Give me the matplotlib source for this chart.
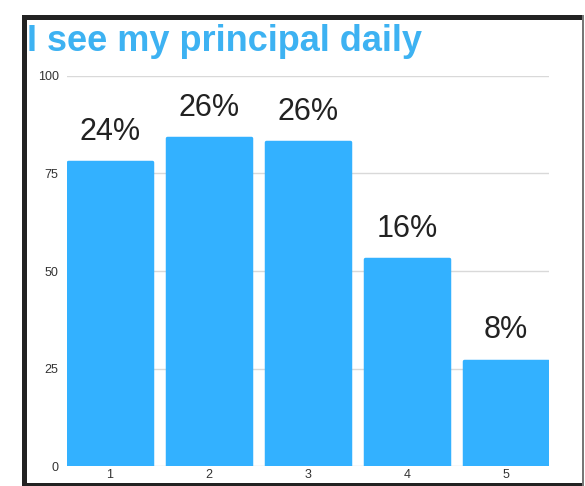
import matplotlib.pyplot as plt
from matplotlib.patches import Rectangle

# data
categories = ["1", "2", "3", "4", "5"]
counts = [78, 84, 83, 53, 27]
pct_labels = ["24%", "26%", "26%", "16%", "8%"]
y_ticks = [0, 25, 50, 75, 100]

bar_color = "#33b1ff"
title_color = "#3db2f2"

plt.rcParams['font.family'] = ['Liberation Sans', 'DejaVu Sans']

W, H = 585, 486
fig = plt.figure(figsize=(W / 100, H / 100), dpi=100)
fig.patch.set_facecolor("white")

# axes box in pixels: left 67, right 549, bottom (y=0) 466, top (y=100) 76
ax = fig.add_axes([67 / W, (H - 466) / H, (549 - 67) / W, (466 - 76) / H])

x = list(range(1, len(categories) + 1))
bars = ax.bar(x, counts, width=0.84, color=bar_color, edgecolor=bar_color,
              linewidth=2.5, joinstyle='round', zorder=3)

# percent labels above bars
for b, lab in zip(bars, pct_labels):
    ax.annotate(lab, (b.get_x() + b.get_width() / 2, b.get_height()),
                xytext=(0, 11), textcoords="offset points",
                ha="center", va="bottom", fontsize=22, color="#222222")

ax.set_xlim(0.565, 5.435)
ax.set_ylim(0, 100)
ax.set_xticks(x)
ax.set_xticklabels(categories)
ax.set_yticks(y_ticks)
ax.tick_params(axis="both", length=0, labelsize=9, colors="#333333")
ax.tick_params(axis="y", pad=6)
ax.tick_params(axis="x", pad=2)
ax.grid(axis="y", color="#d9d9d9", linewidth=1, zorder=0)
for s in ax.spines.values():
    s.set_visible(False)

# title
fig.text(27 / W, 1 - 51 / H, "I see my principal daily", fontsize=26,
         fontweight="bold", color=title_color, ha="left", va="baseline")

# frame around the chart
def px_rect(x0, y0, x1, y1, color):
    fig.add_artist(Rectangle((x0 / W, 1 - y1 / H), (x1 - x0) / W, (y1 - y0) / H,
                             transform=fig.transFigure, facecolor=color,
                             edgecolor="none", zorder=10))

px_rect(22, 15, 584, 20, "#222222")   # top
px_rect(22, 15, 27, 486, "#222222")   # left
px_rect(22, 483, 584, 486, "#222222") # bottom
px_rect(582, 15, 584, 486, "#777777") # right

fig.savefig("out.png", dpi=100)
